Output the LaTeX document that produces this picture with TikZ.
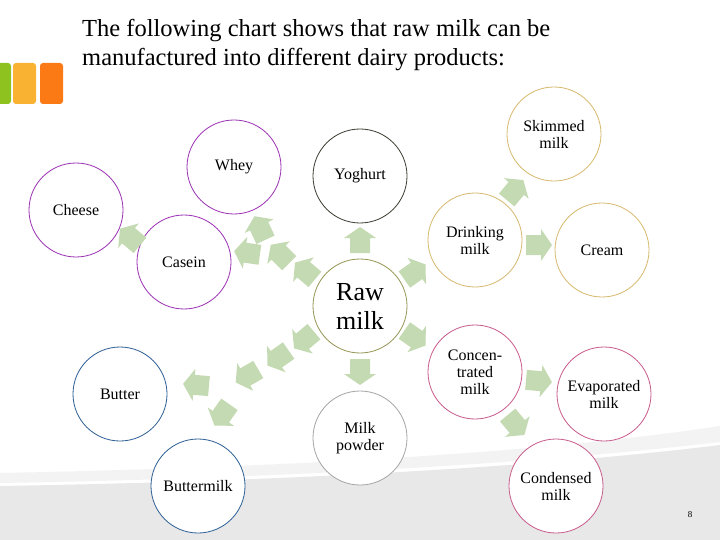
\documentclass[tikz,border=0pt]{standalone}
\usepackage{fontspec}
\setmainfont{Liberation Serif}
\definecolor{arrowgreen}{RGB}{196,218,178}
\definecolor{cpurple}{RGB}{155,50,180}
\definecolor{cgold}{RGB}{215,185,110}
\definecolor{colive}{RGB}{150,150,85}
\definecolor{cdark}{RGB}{60,60,50}
\definecolor{cpink}{RGB}{200,90,140}
\definecolor{cgray}{RGB}{165,165,165}
\definecolor{cblue}{RGB}{46,95,150}
\definecolor{bandlight}{RGB}{243,243,243}
\definecolor{banddark}{RGB}{232,232,232}
\definecolor{logogreen}{RGB}{141,194,31}
\definecolor{logoyellow}{RGB}{250,178,50}
\definecolor{logoorange}{RGB}{252,122,22}
\tikzset{
  prod/.style={circle, draw=#1, line width=0.8pt, fill=white, minimum size=94pt, inner sep=0pt, align=center, font=\fontsize{16}{17}\selectfont},
  harrow/.pic={\fill[arrowgreen] (-13,-10) -- (2,-10) -- (2,-16) -- (13,0) -- (2,16) -- (2,10) -- (-13,10) -- cycle;},
  titletext/.style={anchor=base west, inner sep=0pt, font=\fontsize{24.5}{29}\selectfont}
}
\begin{document}
\begin{tikzpicture}[x=1pt,y=-1pt]
\useasboundingbox (0,0) rectangle (720,540);
\fill[white] (0,0) rectangle (720,540);
% bottom band
\fill[bandlight] (0,473) .. controls (300,467) and (550,452) .. (720,426) -- (720,442) .. controls (550,462) and (300,478) .. (0,483) -- cycle;
\fill[banddark] (0,486) .. controls (300,481) and (550,466) .. (720,445) -- (720,540) -- (0,540) -- cycle;
% logo
\fill[logogreen, rounded corners=3pt] (-6,63) rectangle (11,104);
\fill[logoyellow, rounded corners=3pt] (13,63) rectangle (36,104);
\fill[logoorange, rounded corners=3pt] (40,63) rectangle (63,104);
% title
\node[titletext] (t1) at (82,37) {The following chart shows that raw milk can be};
\node[titletext] (t2) at (82,66) {manufactured into different dairy products:};
% circles
\node[prod=colive, font=\fontsize{26}{29}\selectfont] (raw) at (360,306) {Raw\\milk};
\node[prod=cpurple] (whey) at (234,167) {Whey};
\node[prod=cdark] (yog) at (360,176) {Yoghurt};
\node[prod=cpurple] (cheese) at (76,210) {Cheese};
\node[prod=cpurple] (casein) at (184,262) {Casein};
\node[prod=cgold] (skim) at (554,134) {Skimmed\\milk};
\node[prod=cgold] (drink) at (475,240) {Drinking\\milk};
\node[prod=cgold] (cream) at (602,250) {Cream};
\node[prod=cpink] (conc) at (475,372) {Concen-\\trated\\milk};
\node[prod=cpink] (evap) at (604,394) {Evaporated\\milk};
\node[prod=cpink] (cond) at (556,486) {Condensed\\milk};
\node[prod=cgray] (powder) at (360,438) {Milk\\powder};
\node[prod=cblue] (butter) at (120,394) {Butter};
\node[prod=cblue] (bmilk) at (198,486) {Buttermilk};
% arrows around raw milk
\pic[rotate=90] at (360,240) {harrow};
\pic[rotate=-90] at (360,372) {harrow};
\pic[rotate=35] at (415,272) {harrow};
\pic[rotate=-35] at (415,338) {harrow};
% upper-left chain
\pic[rotate=140] at (305,271) {harrow};
\pic[rotate=135] at (280,254) {harrow};
\pic[rotate=115] at (260,228) {harrow};
\pic[rotate=172] at (247,253) {harrow};
\pic[rotate=140] at (130,237) {harrow};
% lower-left chain
\pic[rotate=-140] at (304,340) {harrow};
\pic[rotate=-145] at (278,358) {harrow};
\pic[rotate=-150] at (247,376) {harrow};
\pic[rotate=175] at (196,385) {harrow};
\pic[rotate=-125] at (222,415) {harrow};
% right side
\pic[rotate=50] at (515,190) {harrow};
\pic[rotate=0] at (539,245) {harrow};
\pic[rotate=-5] at (539,381) {harrow};
\pic[rotate=-50] at (516,425) {harrow};
% page number
\node[font=\fontsize{9}{10}\selectfont, inner sep=0pt] (pg) at (690,515) {8};
\end{tikzpicture}
\end{document}
